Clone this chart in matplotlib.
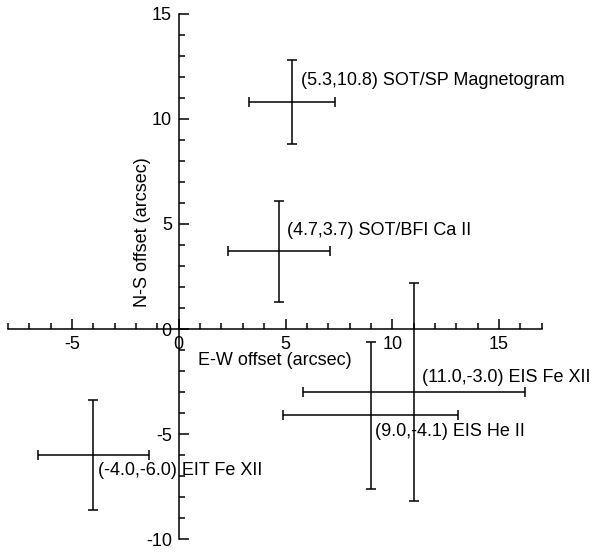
import matplotlib
matplotlib.use("Agg")
import matplotlib.pyplot as plt
from matplotlib.ticker import MultipleLocator

plt.rcParams['font.family'] = ['Liberation Sans', 'DejaVu Sans']
plt.rcParams['font.size'] = 13
plt.rcParams['axes.unicode_minus'] = False

# measured offsets of each instrument (arcsec)
names = ["SOT/SP Magnetogram", "SOT/BFI Ca II", "EIS Fe XII", "EIS He II", "EIT Fe XII"]
x_off = [5.3, 4.7, 11.0, 9.0, -4.0]
y_off = [10.8, 3.7, -3.0, -4.1, -6.0]
x_err = [2.0, 2.4, 5.2, 4.1, 2.6]
y_err = [2.0, 2.4, 5.2, 3.5, 2.6]

# label placement relative to each point, in pixels
label_shift = [(9, 22), (8, 21), (8, 15), (4, -16), (5, -15)]


def main():
	fig = plt.figure(figsize=(5.93, 5.55), dpi=100)
	ax = fig.add_axes([0.0135, 0.0288, 0.900, 0.946])

	ax.errorbar(x_off, y_off, xerr=x_err, yerr=y_err, fmt='none',
				ecolor='black', elinewidth=1.1, capsize=3.5, capthick=1.1)

	for name, x, y, shift in zip(names, x_off, y_off, label_shift):
		ax.annotate(f"({x:.1f},{y:.1f}) {name}", (x, y), xytext=shift,
					textcoords='offset pixels', ha='left', va='center')

	ax.set_xlim(-8, 17)
	ax.set_ylim(-10, 15)

	# axes cross at the origin
	ax.spines['left'].set_position(('data', 0))
	ax.spines['bottom'].set_position(('data', 0))
	ax.spines['top'].set_visible(False)
	ax.spines['right'].set_visible(False)
	for s in ('left', 'bottom'):
		ax.spines[s].set_linewidth(1.1)

	ax.xaxis.set_major_locator(MultipleLocator(5))
	ax.xaxis.set_minor_locator(MultipleLocator(1))
	ax.yaxis.set_major_locator(MultipleLocator(5))
	ax.yaxis.set_minor_locator(MultipleLocator(1))
	ax.tick_params(which='both', direction='in', width=1.1, pad=5)
	ax.tick_params(which='major', length=7)
	ax.tick_params(which='minor', length=4)

	ax.set_xlabel("E-W offset (arcsec)")
	ax.xaxis.set_label_coords(4.5, -1.1, transform=ax.transData)
	ax.set_ylabel("N-S offset (arcsec)")
	ax.yaxis.set_label_coords(-1.3, 4.6, transform=ax.transData)

	ax.patch.set_visible(False)
	fig.savefig("out.png", dpi=100)


if __name__ == "__main__":
	main()
